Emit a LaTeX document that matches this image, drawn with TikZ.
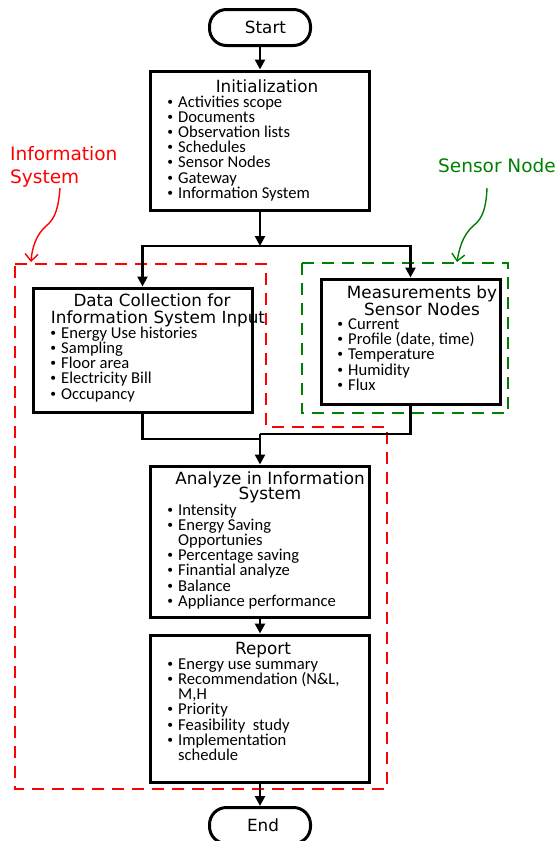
\documentclass[tikz,border=0pt]{standalone}
\usepackage{fontspec}
\setmainfont{DejaVu Sans}
\newfontfamily\bul{Carlito}
\usetikzlibrary{arrows.meta}
\definecolor{isred}{RGB}{255,0,0}
\definecolor{sngreen}{RGB}{0,128,0}
\newcommand\itm[1]{\makebox[12pt][l]{\normalfont\fontsize{14}{15.2}\selectfont•}#1}
\newcommand\itc[1]{\hspace*{12pt}#1}
\begin{document}
\begin{tikzpicture}[x=1pt,y=-1pt,
  box/.style={draw=black,line width=3pt,rectangle,inner sep=0pt},
  term/.style={draw=black,line width=3pt,rectangle,rounded corners=17pt,minimum width=101pt,minimum height=36pt,inner sep=0pt,font=\fontsize{16.8}{17}\selectfont},
  ttl/.style={anchor=north,inner sep=0pt,align=center,font=\fontsize{16.8}{17}\selectfont},
  lst/.style={anchor=north west,inner sep=0pt,align=left,font={\bul\fontsize{16.6}{15.2}\selectfont\lineskiplimit=-20pt}},
  conn/.style={draw=black,line width=2.8pt},
  arr/.style={conn,-{Triangle[length=10pt,width=10pt]}},
  grp/.style={line width=2.8pt,dash pattern=on 12pt off 8pt},
  lab/.style={anchor=north west,inner sep=0pt,align=left,font=\fontsize{18.5}{23}\selectfont},
  curv/.style={line width=1.4pt,-{Straight Barb[length=7pt,width=13pt,line width=1.4pt]}}
]
\useasboundingbox (0,0) rectangle (558,841);
\fill[white] (0,0) rectangle (558,841);

% group frames
\draw[grp,isred] (15,264) -- (266,264) -- (266,427) -- (387,427) -- (387,789) -- (15,789) -- cycle;
\draw[grp,sngreen] (302,263) rectangle (508,413);

% group labels
\node[lab,text=isred] (islab) at (10,146) {Information\\System};
\node[lab,text=sngreen] (snlab) at (438,158) {Sensor Node};
\coordinate (istip) at (31,262);
\coordinate (sntip) at (457,262);
\draw[curv,isred] (60,188) .. controls (58,215) and (52,221) .. (46,226) .. controls (36,235) and (32,248) .. (istip);
\draw[curv,sngreen] (487,188) .. controls (486,215) and (479,221) .. (473,226) .. controls (462,236) and (459,250) .. (sntip);

% terminals
\node[term] (start) at (260,27.5) {\hspace*{11pt}Start};
\node[term] (end) at (260,825.5) {\hspace*{6pt}End};

% boxes
\node[box,minimum width=219.5pt,minimum height=139pt] (init) at (260,140.5) {};
\node[box,minimum width=219pt,minimum height=124pt] (data) at (142.5,350) {};
\node[box,minimum width=179pt,minimum height=125pt] (meas) at (410.5,341.5) {};
\node[box,minimum width=219.5pt,minimum height=151pt] (ana) at (260,541.5) {};
\node[box,minimum width=219.5pt,minimum height=147pt] (rep) at (260,708.5) {};

% texts
\node[ttl] (initT) at (267,79.8) {Initialization};
\node[lst] (initL) at (166,95.5) {\itm{Activities scope}\\\itm{Documents}\\\itm{Observation lists}\\\itm{Schedules}\\\itm{Sensor Nodes}\\\itm{Gateway}\\\itm{Information System}};

\node[ttl] (dataT) at (158,293.8) {Data Collection for\hspace*{12pt}\\Information System Input};
\node[lst] (dataL) at (49,326.5) {\itm{Energy Use histories}\\\itm{Sampling}\\\itm{Floor area}\\\itm{Electricity Bill}\\\itm{Occupancy}};

\node[ttl] (measT) at (422,285.8) {Measurements by\\Sensor Nodes};
\node[lst] (measL) at (336,318.5) {\itm{Current}\\\itm{Profile (date, time)}\\\itm{Temperature}\\\itm{Humidity}\\\itm{Flux}};

\node[ttl] (anaT) at (270,471.8) {Analyze in Information\\[-2pt]System};
\node[lst] (anaL) at (166,503.5) {\itm{Intensity}\\\itm{Energy Saving}\\\itc{Opportunies}\\\itm{Percentage saving}\\\itm{Finantial analyze}\\\itm{Balance}\\\itm{Appliance performance}};

\node[ttl] (repT) at (263,642.4) {Report};
\node[lst] (repL) at (166,658.5) {\itm{Energy use summary}\\\itm{Recommendation (N\&L,}\\\itc{M,H}\\\itm{Priority}\\\itm{Feasibility\ \ study}\\\itm{Implementation}\\\itc{schedule}};

% connectors
\coordinate (split) at (260,246);
\coordinate (mL) at (260,439);
\coordinate (mR) at (260,434);
\draw[arr] (start.south) -- (init.north);
\draw[arr] (init.south) -- (split);
\draw[arr] (split) -| (data.north);
\draw[arr] (split) -| (meas.north);
\draw[conn] (data.south) |- (mL);
\draw[conn] (meas.south) |- (mR);
\draw[arr] (mR) -- (ana.north);
\draw[arr] (ana.south) -- (rep.north);
\draw[arr] (rep.south) -- (end.north);
\end{tikzpicture}
\end{document}
